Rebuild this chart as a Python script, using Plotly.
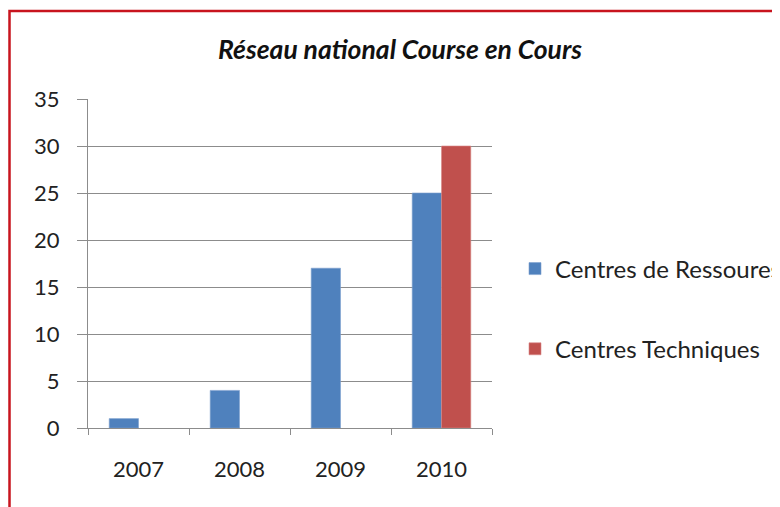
import plotly.graph_objects as go

years = ["2007", "2008", "2009", "2010"]
centres_ressources = [1, 4, 17, 25]
centres_techniques = [None, None, None, 30]
series_names = ["Centres de Ressoures", "Centres Techniques"]
title_text = "Réseau national Course en Cours"

W, H = 780, 507
OFF = 8  # page body offset of the rendered figure
# plot area in reference pixel coordinates
PL, PR, PT, PB = 88, 492, 99, 428
ml, mt = PL - OFF, PT - OFF
mr, mb = W - (PR - OFF), H - (PB - OFF)
pw = PR - PL
ph = PB - PT

def px_x(x):
    return (x - PL) / pw

def px_y(y):
    return (PB - y) / ph

font = "Lato, 'Open Sans', sans-serif"

fig = go.Figure()
fig.add_trace(go.Bar(x=years, y=centres_ressources, name=series_names[0],
                     marker=dict(color="#4F81BD", line=dict(color="#7DA0CF", width=0.6)),
                     legendgroup="a"))
fig.add_trace(go.Bar(x=years, y=centres_techniques, name=series_names[1],
                     marker=dict(color="#C0504D", line=dict(color="#D98886", width=0.6)),
                     legendgroup="b"))

fig.update_layout(
    width=W, height=H,
    margin=dict(l=ml, r=mr, t=mt, b=mb, autoexpand=False),
    paper_bgcolor="white", plot_bgcolor="white",
    barmode="group", bargap=0.42, bargroupgap=0,
    font=dict(family=font, size=22, color="#222222"),
    title=dict(text="<i>" + title_text + "</i>", x=(400 - OFF) / W, xanchor="center",
               y=1 - (50 - OFF) / H, yanchor="middle", yref="container",
               font=dict(family=font, size=26.5, color="#111111", weight="bold")),
    legend=dict(x=px_x(515), y=px_y(309), xanchor="left", yanchor="middle",
                traceorder="grouped", tracegroupgap=46,
                font=dict(family=font, size=24, color="#222222"),
                itemwidth=30, bgcolor="rgba(0,0,0,0)"),
    xaxis=dict(type="category", showgrid=False, showline=True, linecolor="#8C8C8C",
               linewidth=1.2, ticks="outside", tickson="boundaries", ticklen=6,
               tickcolor="#8C8C8C", ticklabelstandoff=21,
               tickfont=dict(size=22, color="#222222")),
    yaxis=dict(range=[0, 35], dtick=5, showgrid=True, gridcolor="#8C8C8C",
               gridwidth=1.2, showline=True, linecolor="#8C8C8C", linewidth=1.2,
               ticks="outside", ticklen=10, tickcolor="#8C8C8C",
               ticklabelstandoff=13, zeroline=False,
               tickfont=dict(size=22, color="#222222")),
    shapes=[dict(type="rect", xref="paper", yref="paper",
                 x0=px_x(OFF + 1.5), x1=px_x(820), y0=px_y(540), y1=px_y(11),
                 line=dict(color="#C8141E", width=2.5), fillcolor="rgba(0,0,0,0)",
                 layer="above")],
)

fig.write_html("out.html")
